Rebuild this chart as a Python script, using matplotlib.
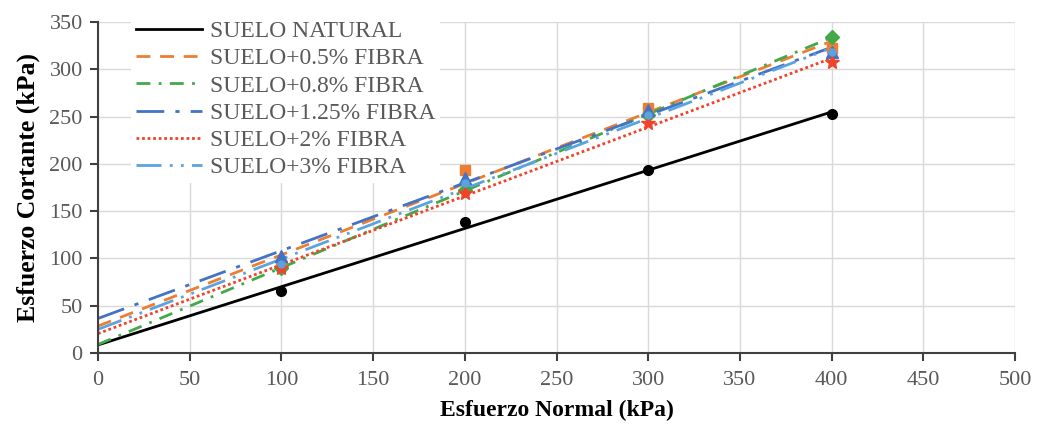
import numpy as np
import matplotlib.pyplot as plt

plt.rcParams['font.family'] = ['Liberation Serif', 'DejaVu Serif']

# datos (kPa)
normal = [100, 200, 300, 400]
natural = [66, 138, 193, 253]
fibra_05 = [93, 193, 259, 322]
fibra_08 = [90, 172, 252, 334]
fibra_125 = [103, 185, 257, 318]
fibra_2 = [90, 169, 243, 308]
fibra_3 = [94, 180, 252, 318]

labels = ['SUELO NATURAL', 'SUELO+0.5% FIBRA', 'SUELO+0.8% FIBRA',
          'SUELO+1.25% FIBRA', 'SUELO+2% FIBRA', 'SUELO+3% FIBRA']

series = [natural, fibra_05, fibra_08, fibra_125, fibra_2, fibra_3]
colors = ['black', '#ED7D31', '#44A849', '#4472C4', '#F0442A', '#5BA3DE']
styles = ['-', (0, (5, 3.5)), (0, (5, 3, 1, 3)), (0, (10, 4, 1.5, 4)),
          (0, (1, 1)), (0, (9, 3, 1, 3, 1, 3))]
markers = ['o', 's', 'D', '^', '*', 'o']
msizes = [7, 7, 7, 8, 10, 5]

fig = plt.figure(figsize=(10.38, 4.30), dpi=100)
ax = fig.add_axes([98/1038, 1-353/430, (1015-98)/1038, (353-22)/430])

x = np.array(normal, dtype=float)
xx = np.array([0, 400.0])
handles = []
for y, c, ls, m, ms, lab in zip(series, colors, styles, markers, msizes, labels):
    k, b = np.polyfit(x, np.array(y, dtype=float), 1)
    h, = ax.plot(xx, k*xx + b, color=c, linestyle=ls, linewidth=2, label=lab, zorder=2)
    ax.plot(x, y, linestyle='none', marker=m, color=c, markersize=ms, zorder=3)
    handles.append(h)

ax.set_xlim(0, 500)
ax.set_ylim(0, 350)
ax.set_xticks(np.arange(0, 501, 50))
ax.set_yticks(np.arange(0, 351, 50))
ax.grid(color='#D9D9D9', linewidth=1)
ax.set_axisbelow(True)
for s in ['top', 'right']:
    ax.spines[s].set_visible(False)
for s in ['left', 'bottom']:
    ax.spines[s].set_color('#404040')
    ax.spines[s].set_linewidth(1.5)
ax.tick_params(direction='out', length=6, width=1.5, color='#404040',
               labelcolor='#595959', labelsize=16)
ax.tick_params(axis='x', pad=7)
ax.tick_params(axis='y', pad=5)

ax.set_xlabel('Esfuerzo Normal (kPa)', fontsize=17, fontweight='bold', labelpad=7)
ax.set_ylabel('Esfuerzo Cortante (kPa)', fontsize=18.5, fontweight='bold', labelpad=7)

leg = ax.legend(handles=handles, loc='upper left', bbox_to_anchor=(131/1038, 1-16/430),
                bbox_transform=fig.transFigure, frameon=True, facecolor='white',
                edgecolor='none', framealpha=1, fontsize=17, handlelength=2.8,
                handletextpad=0.35, labelspacing=0.24, borderpad=0.2, borderaxespad=0)
for t in leg.get_texts():
    t.set_color('#595959')

fig.savefig('out.png', dpi=100)
